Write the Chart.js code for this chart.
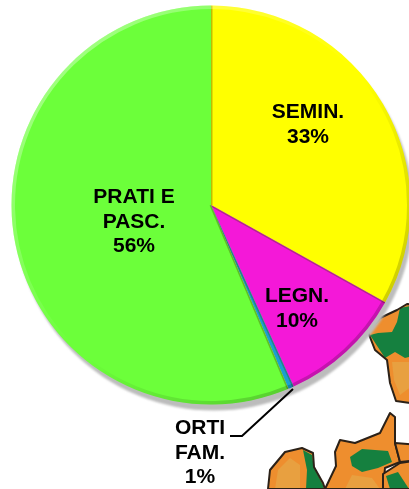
<!DOCTYPE html>
<html><head><meta charset="utf-8">
<style>html,body{margin:0;padding:0;background:#fff;overflow:hidden;width:409px;height:489px}canvas{display:block}</style>
<script src="https://cdn.jsdelivr.net/npm/chart.js@4"></script></head>
<body><canvas id="c" width="440" height="489" style="width:440px;height:489px"></canvas>
<script>
const categories = ['SEMIN.', 'LEGN.', 'ORTI FAM.', 'PRATI E PASC.'];
const shares = [33.1, 10.1, 0.45, 56.35];
const sliceColors = ['#ffff00', '#f418d8', '#1aa0d0', '#6cff3a'];
const labelLines = [['SEMIN.', '33%'], ['LEGN.', '10%'], ['ORTI', 'FAM.', '1%'], ['PRATI E', 'PASC.', '56%']];

function poly(ctx, pts){ctx.beginPath();pts.forEach((p,i)=>i?ctx.lineTo(p[0],p[1]):ctx.moveTo(p[0],p[1]));ctx.closePath();}
const mapBackdrop = {id:'mapBackdrop',beforeDraw(chart){
  const ctx=chart.ctx;ctx.save();ctx.lineJoin='round';ctx.filter='blur(0.7px)';
  const shapes=[
   {o:[[368,332],[380,318],[397,310],[407,304],[420,305],[420,403],[410,403],[396,401],[390,383],[387,360],[375,350]],
    l:[[392,362],[409,362],[420,362],[420,380],[400,395],[394,380]],
    g:[[370,335],[378,333],[392,332],[397,322],[400,308],[420,304],[420,354],[405,358],[395,352],[385,358]]},
   {o:[[268,489],[270,470],[285,452],[302,448],[313,453],[314,467],[323,483],[325,489]],
    l:[[275,489],[278,470],[290,458],[300,465],[300,489]],
    g:[[303,450],[312,455],[314,468],[323,485],[324,489],[306,489],[307,470]]},
   {o:[[325,489],[336,466],[335,452],[340,440],[355,443],[380,433],[390,413],[395,417],[395,443],[400,462],[385,468],[383,489]],
    l:[[345,489],[352,475],[372,478],[380,489]],
    g:[[350,457],[362,449],[388,451],[392,462],[378,468],[362,472],[352,466]]},
   {o:[[395,443],[420,445],[420,460],[400,462]],l:[],g:[]},
   {o:[[383,474],[400,463],[420,460],[420,489],[383,489]],l:[],g:[[386,476],[398,472],[409,489],[390,489]]}
  ];
  for(const s of shapes){
    ctx.save();poly(ctx,s.o);ctx.fillStyle='#ee8e2e';ctx.fill();ctx.clip();
    if(s.l.length){poly(ctx,s.l);ctx.fillStyle='#e8a040';ctx.fill();}
    if(s.g.length){poly(ctx,s.g);ctx.fillStyle='#15803f';ctx.fill();}
    ctx.restore();
    poly(ctx,s.o);ctx.strokeStyle='#2b2118';ctx.lineWidth=2;ctx.stroke();
  }
  ctx.restore();
}};
const pieShadow = {id:'pieShadow',beforeDatasetsDraw(chart){
  const a=chart.getDatasetMeta(0).data[0],ctx=chart.ctx;ctx.save();ctx.filter='blur(1px)';
  ctx.beginPath();ctx.arc(a.x+3,a.y+6,a.outerRadius,0,Math.PI*2);
  ctx.fillStyle='#bcbcbc';ctx.fill();ctx.restore();
}};
const bevel = {id:'bevel',afterDatasetsDraw(chart){
  const ctx=chart.ctx;
  chart.getDatasetMeta(0).data.forEach(a=>{
    ctx.save();ctx.beginPath();ctx.moveTo(a.x,a.y);ctx.arc(a.x,a.y,a.outerRadius,a.startAngle,a.endAngle);ctx.closePath();ctx.clip();
    ctx.beginPath();ctx.moveTo(a.x+Math.cos(a.startAngle)*a.outerRadius,a.y+Math.sin(a.startAngle)*a.outerRadius);ctx.lineTo(a.x,a.y);
    ctx.strokeStyle='rgba(70,70,0,.35)';ctx.lineWidth=3;ctx.stroke();
    const g=ctx.createLinearGradient(a.x-140,a.y-140,a.x+140,a.y+140);
    g.addColorStop(0,'rgba(255,255,255,.35)');g.addColorStop(.5,'rgba(255,255,255,0)');g.addColorStop(.55,'rgba(0,0,0,0)');g.addColorStop(1,'rgba(0,0,0,.2)');
    ctx.beginPath();ctx.arc(a.x,a.y,a.outerRadius-1.5,a.startAngle,a.endAngle);
    ctx.strokeStyle=g;ctx.lineWidth=4;ctx.stroke();
    ctx.restore();
  });
}};
const labelAnchors=[[308,112],[297,296],[200,428],[134,197]];
const sliceLabels = {id:'sliceLabels',afterDraw(chart){
  const ctx=chart.ctx;ctx.save();
  ctx.strokeStyle='#000';ctx.lineWidth=2;ctx.beginPath();ctx.moveTo(230,436);ctx.lineTo(242,436);ctx.lineTo(293,389);ctx.stroke();
  ctx.fillStyle='#000';ctx.font='bold 21px "Liberation Sans", Arial, sans-serif';ctx.textAlign='center';ctx.textBaseline='middle';
  labelLines.forEach((lines,i)=>lines.forEach((t,j)=>ctx.fillText(t,labelAnchors[i][0],labelAnchors[i][1]+j*24.8)));
  ctx.restore();
}};
new Chart(document.getElementById('c'),{
  type:'pie',
  data:{labels:categories,datasets:[{data:shares,backgroundColor:sliceColors,borderWidth:0}]},
  options:{responsive:false,animation:false,
    layout:{padding:{left:11.5,top:5.5,right:29.5,bottom:84.5}},
    plugins:{legend:{display:false},tooltip:{enabled:false}}},
  plugins:[mapBackdrop,pieShadow,bevel,sliceLabels]
});
</script></body></html>
